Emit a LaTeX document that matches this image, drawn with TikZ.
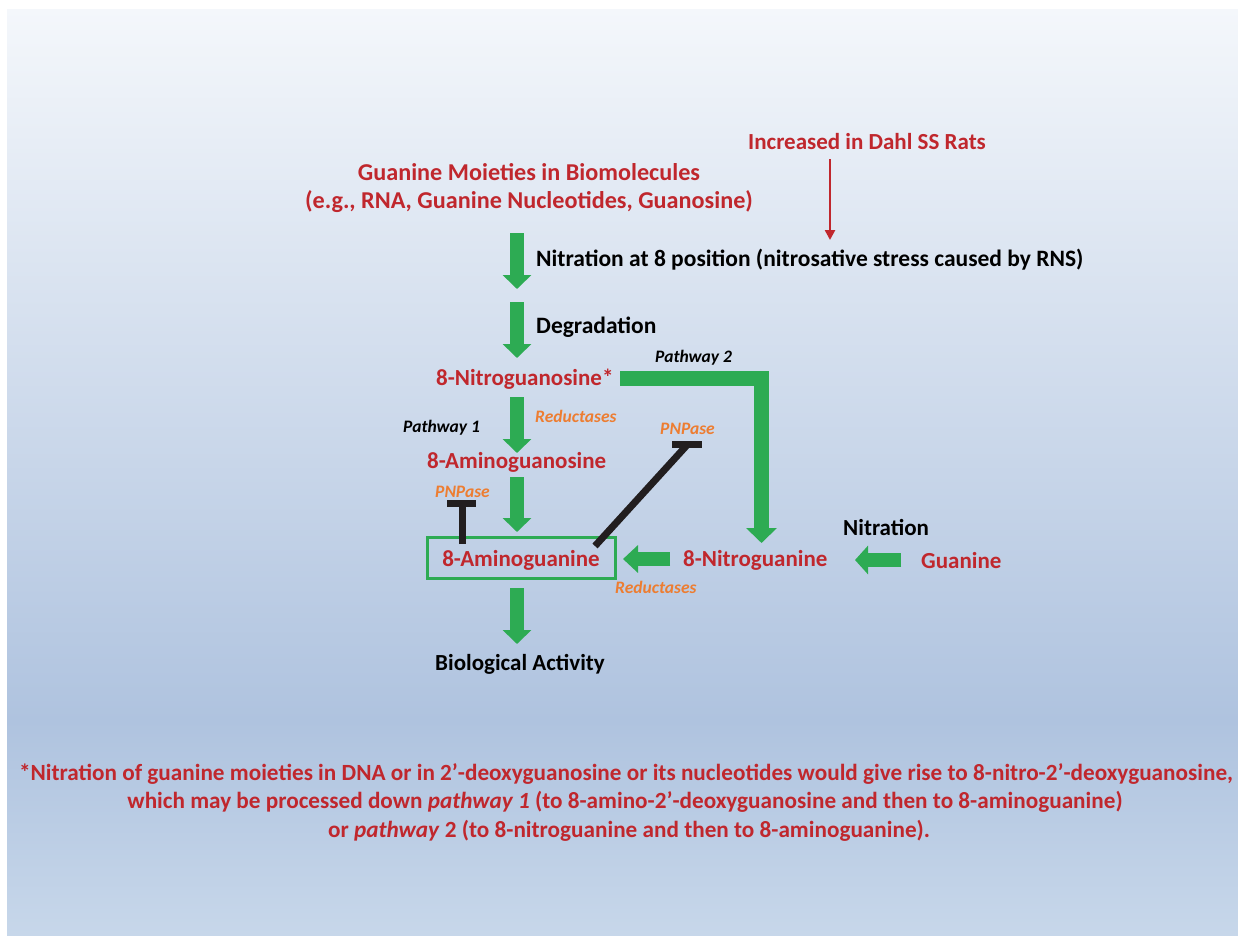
\documentclass[tikz,border=0pt]{standalone}
\usepackage{fontspec}
\setmainfont{Carlito}
\usetikzlibrary{arrows.meta}
\definecolor{dred}{HTML}{C0272D}
\definecolor{orng}{HTML}{ED7D31}
\definecolor{grn}{HTML}{2DAB53}
\definecolor{inkblk}{HTML}{221E1F}
\definecolor{bgtop}{HTML}{F4F7FB}
\definecolor{bgmid}{HTML}{AFC3DF}
\definecolor{bgbot}{HTML}{C7D7EA}
\tikzset{
  big/.style={font=\fontsize{23}{28}\selectfont\bfseries, inner sep=0pt},
  redtxt/.style={big, text=dred},
  blktxt/.style={big, text=black},
  small/.style={font=\fontsize{17.5}{21}\selectfont\bfseries\itshape, inner sep=0pt},
  orgtxt/.style={small, text=orng},
  pathtxt/.style={small, text=black},
  foot/.style={font=\fontsize{23.2}{28}\selectfont\bfseries, text=dred, inner sep=0pt, anchor=base},
  garrow/.style={draw=grn, line width=14pt, line join=miter, -{Triangle[width=28pt,length=14pt]}},
  inhib/.style={draw=inkblk, line width=7pt},
}
\begin{document}
\begin{tikzpicture}[x=1pt,y=-1pt]
\useasboundingbox (0,0) rectangle (1238,935);
\fill[white] (0,0) rectangle (1238,935);
\shade[top color=bgtop, bottom color=bgmid] (7,9) rectangle (1238,720.5);
\shade[top color=bgmid, bottom color=bgbot] (7,720) rectangle (1238,935);

% texts
\node[redtxt, anchor=base] (dahl) at (867,149) {Increased in Dahl SS Rats};
\node[redtxt, font=\fontsize{24.2}{29}\selectfont\bfseries, anchor=base] (gm1) at (529,180) {Guanine Moieties in Biomolecules};
\node[redtxt, font=\fontsize{24.2}{29}\selectfont\bfseries, anchor=base] (gm2) at (529,208) {(e.g., RNA, Guanine Nucleotides, Guanosine)};
\node[blktxt, font=\fontsize{23.5}{28}\selectfont\bfseries, anchor=base west] (nit8) at (536,266) {Nitration at 8 position (nitrosative stress caused by RNS)};
\node[blktxt, font=\fontsize{23.5}{28}\selectfont\bfseries, anchor=base west] (degr) at (536,333) {Degradation};
\node[redtxt, anchor=base west] (ngs) at (436,385) {8-Nitroguanosine*};
\node[pathtxt, anchor=base west] (pw2) at (655,362) {Pathway 2};
\node[orgtxt, anchor=base west] (red1) at (535,422) {Reductases};
\node[pathtxt, anchor=base west] (pw1) at (403,432) {Pathway 1};
\node[redtxt, anchor=base west] (ags) at (427,468) {8-Aminoguanosine};
\node[orgtxt, anchor=base west] (pnp1) at (435,497) {PNPase};
\node[orgtxt, anchor=base west] (pnp2) at (660,434) {PNPase};
\node[redtxt, draw=grn, line width=3pt, minimum width=188pt, minimum height=41pt,
      text height=17pt, text depth=0pt] (ag) at (521,557.5) {8-Aminoguanine};
\node[redtxt, anchor=base west] (ng) at (683,566) {8-Nitroguanine};
\node[orgtxt, anchor=base west] (red2) at (615,593) {Reductases};
\node[blktxt, anchor=base west] (nitr) at (843,535) {Nitration};
\node[redtxt, anchor=base west] (gua) at (921,568) {Guanine};
\node[blktxt, anchor=base] (bio) at (520,670) {Biological Activity};

\node[foot] (f1) at (626,780) {*Nitration of guanine moieties in DNA or in 2\textquoteright-deoxyguanosine or its nucleotides would give rise to 8-nitro-2\textquoteright-deoxyguanosine,};
\node[foot] (f2) at (625,808) {which may be processed down \textit{pathway 1} (to 8-amino-2\textquoteright-deoxyguanosine and then to 8-aminoguanine)};
\node[foot] (f3) at (629,837) {or \textit{pathway} 2 (to 8-nitroguanine and then to 8-aminoguanine).};

% arrow coordinates
\coordinate (a1s) at (517,233); \coordinate (a1e) at (517,289);
\coordinate (a2s) at (517,302); \coordinate (a2e) at (517,358);
\coordinate (a3s) at (517,397); \coordinate (a3e) at (517,453);
\coordinate (a4s) at (517,477); \coordinate (a4e) at (517,532);
\coordinate (a7s) at (517,588); \coordinate (a7e) at (517,644);
\coordinate (p2s) at (620,378.5); \coordinate (p2c) at (761.5,378.5); \coordinate (p2e) at (761.5,543);
\coordinate (a5s) at (670,559); \coordinate (a5e) at (623,559);
\coordinate (a6s) at (901,560); \coordinate (a6e) at (855,560);
\coordinate (rs) at (830,159); \coordinate (re) at (830,240);

\draw[garrow] (a1s) -- (a1e);
\draw[garrow] (a2s) -- (a2e);
\draw[garrow] (a3s) -- (a3e);
\draw[garrow] (a4s) -- (a4e);
\draw[garrow] (a7s) -- (a7e);
\draw[garrow, line width=15pt, -{Triangle[width=30pt,length=15pt]}] (p2s) -- (p2c) -- (p2e);
\draw[garrow, -{Triangle[width=27pt,length=15pt]}] (a5s) -- (a5e);
\draw[garrow, -{Triangle[width=28pt,length=13pt]}] (a6s) -- (a6e);
\draw[draw=dred, line width=2.5pt, -{Triangle[width=10pt,length=10pt]}] (rs) -- (re);

% inhibition bars
\coordinate (t1s) at (462,544); \coordinate (t1e) at (462,500);
\coordinate (t1l) at (447,503.5); \coordinate (t1r) at (476,503.5);
\draw[inhib] (t1s) -- (t1e);
\draw[inhib] (t1l) -- (t1r);
\coordinate (t2s) at (595,546); \coordinate (t2e) at (688,444);
\coordinate (t2l) at (672,444); \coordinate (t2r) at (702,444);
\draw[inhib] (t2s) -- (t2e);
\draw[inhib] (t2l) -- (t2r);
\end{tikzpicture}
\end{document}
